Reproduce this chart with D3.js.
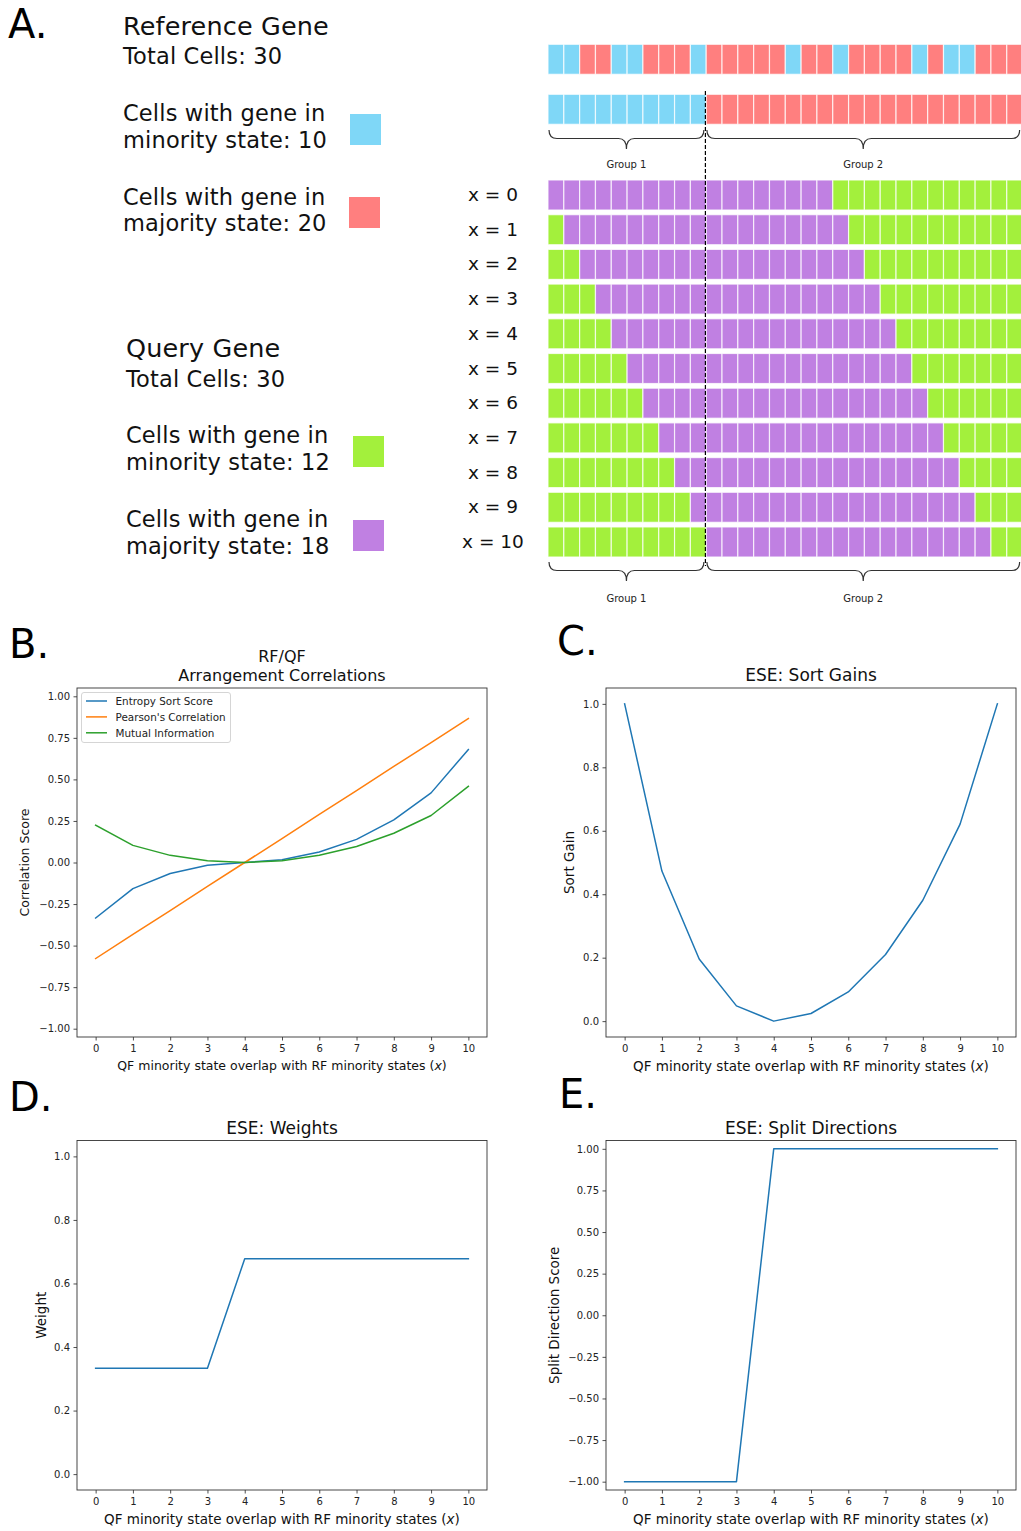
<!DOCTYPE html>
<html>
<head>
<meta charset="utf-8">
<script src="https://cdn.jsdelivr.net/npm/d3@7"></script>
<style>
  html, body { margin: 0; padding: 0; background: #fff; }
  svg { display: block; font-family: "DejaVu Sans", Verdana, sans-serif; }
</style>
</head>
<body>
<script>
// ---------------- DATA ----------------
const cellIndex = d3.range(30);
// Reference gene: B = minority (blue), R = majority (red)
const rfShuffled = "BBRRBBRRRBRRRRRBRRBRRRRBRBBRRR";
const rfSorted   = "BBBBBBBBBBRRRRRRRRRRRRRRRRRRRR";
// Query gene arrangements: G = minority (green), P = majority (purple)
const qfLabels = ["x = 0","x = 1","x = 2","x = 3","x = 4","x = 5","x = 6","x = 7","x = 8","x = 9","x = 10"];
const qfRows = [
  "PPPPPPPPPPPPPPPPPPGGGGGGGGGGGG",
  "GPPPPPPPPPPPPPPPPPPGGGGGGGGGGG",
  "GGPPPPPPPPPPPPPPPPPPGGGGGGGGGG",
  "GGGPPPPPPPPPPPPPPPPPPGGGGGGGGG",
  "GGGGPPPPPPPPPPPPPPPPPPGGGGGGGG",
  "GGGGGPPPPPPPPPPPPPPPPPPGGGGGGG",
  "GGGGGGPPPPPPPPPPPPPPPPPPGGGGGG",
  "GGGGGGGPPPPPPPPPPPPPPPPPPGGGGG",
  "GGGGGGGGPPPPPPPPPPPPPPPPPPGGGG",
  "GGGGGGGGGPPPPPPPPPPPPPPPPPPGGG",
  "GGGGGGGGGGPPPPPPPPPPPPPPPPPPGG"
];
const groupLabels = ["Group 1", "Group 2"];
const groupSplit = 10;

const xVals = [0,1,2,3,4,5,6,7,8,9,10];
const entropySort = [-0.334,-0.157,-0.066,-0.017,0.000,0.016,0.063,0.139,0.257,0.419,0.680];
const pearson     = [-0.578,-0.433,-0.289,-0.144,0.000,0.144,0.289,0.433,0.578,0.722,0.867];
const mutualInfo  = [0.224,0.103,0.043,0.010,0.000,0.011,0.044,0.096,0.176,0.283,0.458];
const seriesNamesB = ["Entropy Sort Score","Pearson's Correlation","Mutual Information"];
const sortGain    = [1.000,0.473,0.196,0.048,0.000,0.024,0.092,0.210,0.381,0.621,1.000];
const weights     = [0.333,0.333,0.333,0.333,0.678,0.678,0.678,0.678,0.678,0.678,0.678];
const splitDir    = [-1,-1,-1,-1,1,1,1,1,1,1,1];

const ticksCorr  = [-1,-0.75,-0.5,-0.25,0,0.25,0.5,0.75,1];
const ticksUnit  = [0,0.2,0.4,0.6,0.8,1.0];
const xLabel = "QF minority state overlap with RF minority states (";

// ---------------- STYLE ----------------
const cellColor = {B:"#7fd7f7", R:"#ff7f7f", G:"#a3f03c", P:"#c080e2"};
const tab = ["#1f77b4","#ff7f0e","#2ca02c"];

const W = 1021, H = 1531;
const svg = d3.select("body").append("svg").attr("width", W).attr("height", H);
svg.append("rect").attr("width", W).attr("height", H).attr("fill", "#fff");

// ---------------- PANEL A ----------------
const xCell = d3.scaleBand().domain(cellIndex).range([548, 548 + 30*15.82]).padding(0);
const yRF = d3.scaleOrdinal().domain(["shuffled","sorted"]).range([44.3, 94.3]);
const yQF = d3.scaleBand().domain(qfLabels).range([180, 557]).paddingInner(0.135).paddingOuter(0);

function drawRow(str, y, h) {
  svg.append("g").selectAll("rect").data(str.split("")).join("rect")
    .attr("x", (d,i) => xCell(i))
    .attr("y", y)
    .attr("width", xCell.bandwidth())
    .attr("height", h)
    .attr("fill", d => cellColor[d])
    .attr("stroke", "#fff").attr("stroke-opacity", 0.75).attr("stroke-width", 1.2);
}
drawRow(rfShuffled, yRF("shuffled"), 30);
drawRow(rfSorted, yRF("sorted"), 30);
qfRows.forEach((r, i) => drawRow(r, yQF(qfLabels[i]), yQF.bandwidth()));

// row labels
svg.append("g").selectAll("text").data(qfLabels).join("text")
  .attr("x", 493).attr("y", d => yQF(d) + yQF.bandwidth()/2 + 6)
  .attr("text-anchor", "middle").attr("font-size", 18.5).attr("fill", "#111")
  .text(d => d);

// dashed divider
const splitX = xCell(groupSplit) - 0.8;
svg.append("line").attr("x1", splitX).attr("x2", splitX).attr("y1", 91).attr("y2", 566)
  .attr("stroke", "#000").attr("stroke-width", 1.2).attr("stroke-dasharray", "4,2");

// braces
function brace(x0, x1, yTop) {
  const r = 8, y1 = yTop + 8.5, y2 = yTop + 19, mid = (x0 + x1)/2;
  return `M${x0},${yTop} Q${x0},${y1} ${x0+r},${y1} L${mid-r},${y1} Q${mid},${y1} ${mid},${y2} ` +
         `Q${mid},${y1} ${mid+r},${y1} L${x1-r},${y1} Q${x1},${y1} ${x1},${yTop}`;
}
const groupSpans = [[xCell(0)+1, splitX-1.5], [splitX+1.5, xCell(29)+xCell.bandwidth()-3]];
[[130, 168], [562, 602]].forEach(([yTop, yLab]) => {
  groupSpans.forEach((s, gi) => {
    svg.append("path").attr("d", brace(s[0], s[1], yTop))
      .attr("fill", "none").attr("stroke", "#333").attr("stroke-width", 1.2);
    svg.append("text").attr("x", (s[0]+s[1])/2).attr("y", yLab)
      .attr("text-anchor", "middle").attr("font-size", 10).attr("fill", "#222")
      .text(groupLabels[gi]);
  });
});

// left text descriptions
const txt = [
  {t:"Reference Gene", x:123, y:35, s:25.5},
  {t:"Total Cells: 30", x:123, y:64, s:22.5},
  {t:"Cells with gene in", x:123, y:121, s:22.5},
  {t:"minority state: 10", x:123, y:148, s:22.5},
  {t:"Cells with gene in", x:123, y:205, s:22.5},
  {t:"majority state: 20", x:123, y:231, s:22.5},
  {t:"Query Gene", x:126, y:357, s:25.5},
  {t:"Total Cells: 30", x:126, y:387, s:22.5},
  {t:"Cells with gene in", x:126, y:443, s:22.5},
  {t:"minority state: 12", x:126, y:470, s:22.5},
  {t:"Cells with gene in", x:126, y:527, s:22.5},
  {t:"majority state: 18", x:126, y:554, s:22.5}
];
svg.append("g").selectAll("text").data(txt).join("text")
  .attr("x", d => d.x).attr("y", d => d.y).attr("font-size", d => d.s).attr("fill", "#111")
  .attr("letter-spacing", 0.15)
  .text(d => d.t);

const keys = [
  {c:"B", x:350, y:114}, {c:"R", x:349, y:197},
  {c:"G", x:353, y:436}, {c:"P", x:353, y:520}
];
svg.append("g").selectAll("rect").data(keys).join("rect")
  .attr("x", d => d.x).attr("y", d => d.y).attr("width", 31).attr("height", 31)
  .attr("fill", d => cellColor[d.c]);

// panel letters
const letters = [
  {t:"A.", x:8, y:38}, {t:"B.", x:9, y:658}, {t:"C.", x:557, y:655},
  {t:"D.", x:9, y:1111}, {t:"E.", x:559, y:1108}
];
svg.append("g").selectAll("text").data(letters).join("text")
  .attr("x", d => d.x).attr("y", d => d.y).attr("font-size", 40).attr("fill", "#000")
  .text(d => d.t);

// ---------------- LINE PANELS ----------------
function panel(opt) {
  const {left, right, top, bottom, ydom, yticks, yfmt, series, title, ylabel, ylabelX, titleY, titleSize, xlabY, labSize} = opt;
  const x = d3.scaleLinear().domain([-0.5, 10.5]).range([left, right]);
  const y = d3.scaleLinear().domain(ydom).range([bottom, top]);
  const g = svg.append("g");

  const ya = g.append("g").attr("transform", `translate(${left},0)`)
    .call(d3.axisLeft(y).tickValues(yticks).tickFormat(d3.format(yfmt)).tickSize(3.5).tickPadding(3.5));
  const xa = g.append("g").attr("transform", `translate(0,${bottom})`)
    .call(d3.axisBottom(x).tickValues(xVals).tickFormat(d3.format("d")).tickSize(3.5).tickPadding(4.5));
  [ya, xa].forEach(a => {
    a.select(".domain").remove();
    a.selectAll("text").attr("font-size", 10).attr("fill", "#222").attr("font-family", "DejaVu Sans");
    a.selectAll("line").attr("stroke", "#222").attr("stroke-width", 0.8);
  });

  series.forEach(s => {
    g.append("path").datum(s.values)
      .attr("fill", "none").attr("stroke", s.color).attr("stroke-width", 1.5)
      .attr("stroke-linejoin", "round").attr("stroke-linecap", "square")
      .attr("d", d3.line().x((d,i) => x(xVals[i])).y(d => y(d)));
  });

  g.append("rect").attr("x", left).attr("y", top).attr("width", right-left).attr("height", bottom-top)
    .attr("fill", "none").attr("stroke", "#333").attr("stroke-width", 0.9);

  const cx = (left + right)/2;
  title.forEach((t, i) => {
    g.append("text").attr("x", cx).attr("y", titleY[i]).attr("text-anchor", "middle")
      .attr("font-size", titleSize).attr("fill", "#111").text(t);
  });

  const xl = g.append("text").attr("x", cx).attr("y", xlabY).attr("text-anchor", "middle")
    .attr("font-size", labSize).attr("fill", "#111");
  xl.append("tspan").text(xLabel);
  xl.append("tspan").attr("font-style", "italic").text("x");
  xl.append("tspan").text(")");

  g.append("text").attr("transform", `translate(${ylabelX},${(top+bottom)/2}) rotate(-90)`)
    .attr("text-anchor", "middle").attr("dominant-baseline", "central")
    .attr("font-size", labSize).attr("fill", "#111").text(ylabel);
  return {x, y, g};
}

const pB = panel({left:77, right:487, top:688, bottom:1037, ydom:[-1.05,1.05], yticks:ticksCorr, yfmt:".2f",
  series:[{values:entropySort, color:tab[0]}, {values:pearson, color:tab[1]}, {values:mutualInfo, color:tab[2]}],
  title:["RF/QF","Arrangement Correlations"], titleY:[662,681], titleSize:16, ylabel:"Correlation Score", ylabelX:24.5, xlabY:1070, labSize:12.5});

// legend
const lg = pB.g.append("g");
lg.append("rect").attr("x", 81.5).attr("y", 692.5).attr("width", 149).attr("height", 50).attr("rx", 2.5)
  .attr("fill", "#fff").attr("fill-opacity", 0.8).attr("stroke", "#d0d0d0").attr("stroke-width", 0.9);
seriesNamesB.forEach((n, i) => {
  const yy = 701 + i*15.9;
  lg.append("line").attr("x1", 86).attr("x2", 107).attr("y1", yy).attr("y2", yy)
    .attr("stroke", tab[i]).attr("stroke-width", 1.5);
  lg.append("text").attr("x", 115.5).attr("y", yy + 3.7).attr("font-size", 10.4).attr("fill", "#222").text(n);
});

panel({left:606, right:1016, top:688, bottom:1037, ydom:[-0.05,1.05], yticks:ticksUnit, yfmt:".1f",
  series:[{values:sortGain, color:tab[0]}],
  title:["ESE: Sort Gains"], titleY:[681], titleSize:17, ylabel:"Sort Gain", ylabelX:568.5, xlabY:1071, labSize:13.5});

panel({left:77, right:487, top:1140.5, bottom:1490, ydom:[-0.05,1.05], yticks:ticksUnit, yfmt:".1f",
  series:[{values:weights, color:tab[0]}],
  title:["ESE: Weights"], titleY:[1134], titleSize:17, ylabel:"Weight", ylabelX:40.5, xlabY:1524, labSize:13.5});

panel({left:606, right:1016, top:1140.5, bottom:1490, ydom:[-1.05,1.05], yticks:ticksCorr, yfmt:".2f",
  series:[{values:splitDir, color:tab[0]}],
  title:["ESE: Split Directions"], titleY:[1134], titleSize:17, ylabel:"Split Direction Score", ylabelX:553.5, xlabY:1524, labSize:13.5});
</script>
</body>
</html>
